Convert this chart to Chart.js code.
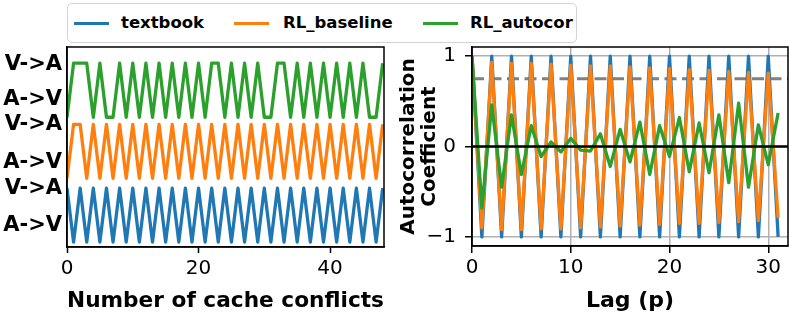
<!DOCTYPE html>
<html><head><meta charset="utf-8">
<script src="https://cdn.jsdelivr.net/npm/chart.js@4/dist/chart.umd.min.js"></script>
<style>
html,body{margin:0;padding:0;background:#fff;}
body{width:789px;height:316px;position:relative;overflow:hidden;font-family:"DejaVu Sans",sans-serif;}
#legend{position:absolute;left:67px;top:3px;width:510px;height:40px;box-sizing:border-box;border:1.5px solid #d3d3d3;border-radius:5px;background:#fff;}
.sw{position:absolute;top:18px;width:35px;height:3px;}
.lb{position:absolute;top:8px;font-weight:bold;font-size:16.5px;line-height:22px;color:#000;white-space:nowrap;}
#c1{position:absolute;left:0;top:0;}
#c2{position:absolute;left:395px;top:0;}
</style></head><body>
<div id="legend"></div>
<canvas id="c1" width="395" height="316"></canvas>
<canvas id="c2" width="394" height="316"></canvas>
<script>
// ---------- data ----------
const seriesNames = ['textbook', 'RL_baseline', 'RL_autocor'];
const seriesColors = ['#1f77b4', '#ff7f0e', '#2ca02c'];

// left panel: sequence of states (1 = V->A, 0 = A->V) per cache conflict
const textbookSeq = [1,0,1,0,1,0,1,0,1,0, 1,0,1,0,1,0,1,0,1,0, 1,0,1,0,1,0,1,0,1,0, 1,0,1,0,1,0,1,0,1,0, 1,0,1,0,1,0,1,0,1];
const baselineSeq = [0,1,1,0,1,0,1,0,1,0, 1,0,1,0,1,0,1,0,1,0, 1,0,1,0,1,0,1,0,1,0, 1,0,1,0,1,0,1,0,1,0, 1,0,1,0,1,0,1,0,1];
const autocorSeq  = [0,1,1,1,0,1,0,0,1,0, 1,0,1,0,1,0,1,0,1,0, 1,0,1,1,0,1,0,1,0,1, 0,0,1,1,0,1,0,1,0,1, 0,1,0,1,0,1,0,0,1];
const stateTickLabels = ['A->V', 'V->A', 'A->V', 'V->A', 'A->V', 'V->A'];
const stateTickValues = [0.31, 1.0, 1.48, 2.17, 2.63, 3.28];
const conflictTicks = [0, 20, 40];

// right panel: autocorrelation coefficient per lag
const lags = [0,1,2,3,4,5,6,7,8,9,10,11,12,13,14,15,16,17,18,19,20,21,22,23,24,25,26,27,28,29,30,31];
const textbookAcf = [1,-1,1,-1,1,-1,1,-1,1,-1,1,-1,1,-1,1,-1,1,-1,1,-1,1,-1,1,-1,1,-1,1,-1,1,-1,1,-1];
const baselineAcf = [1.00,-0.90,0.93,-0.92,0.92,-0.92,0.92,-0.91,0.91,-0.91,0.90,-0.90,0.89,-0.89,0.89,-0.88,0.88,-0.87,0.87,-0.86,0.86,-0.85,0.85,-0.85,0.84,-0.84,0.83,-0.83,0.82,-0.82,0.81,-0.79];
const autocorAcf  = [1.00,-0.68,0.46,-0.45,0.35,-0.31,0.23,-0.11,0.05,-0.06,0.09,-0.04,-0.05,0.14,-0.22,0.19,-0.17,0.27,-0.31,0.23,-0.11,0.32,-0.28,0.26,-0.29,0.35,-0.40,0.48,-0.45,0.24,-0.20,0.37];
const lagTicks = [0, 10, 20, 30];
const acfTickValues = [-1, 0, 1];
const acfTickLabels = ['\u22121', '0', '1'];
const thresholdLevel = 0.75;
const zeroLevel = 0;

// ---------- legend (HTML) ----------
const legendPos = [[6, 53], [166, 215], [355, 402]];
const lg = document.getElementById('legend');
seriesNames.forEach((n, i) => {
  const s = document.createElement('div'); s.className = 'sw';
  s.style.left = legendPos[i][0] + 'px'; s.style.background = seriesColors[i];
  const t = document.createElement('div'); t.className = 'lb';
  t.style.left = legendPos[i][1] + 'px'; t.textContent = n;
  lg.appendChild(s); lg.appendChild(t);
});

Chart.defaults.font.family = '"DejaVu Sans", sans-serif';
Chart.defaults.color = '#000';

const framePlugin = {
  id: 'frame',
  afterDatasetsDraw(chart) {
    const {ctx, chartArea: a} = chart;
    ctx.save();
    ctx.strokeStyle = '#000'; ctx.lineWidth = 1.5;
    ctx.strokeRect(a.left, a.top, a.right - a.left, a.bottom - a.top);
    ctx.restore();
  }
};

const refLinesPlugin = {
  id: 'refLines',
  beforeDatasetsDraw(chart) {
    const {ctx, chartArea: a, scales} = chart;
    const y = scales.y.getPixelForValue(thresholdLevel);
    ctx.save();
    ctx.beginPath(); ctx.rect(a.left, a.top, a.right - a.left, a.bottom - a.top); ctx.clip();
    ctx.strokeStyle = '#808080'; ctx.lineWidth = 3; ctx.setLineDash([12, 5.5]);
    ctx.beginPath(); ctx.moveTo(a.left, y); ctx.lineTo(a.right, y); ctx.stroke();
    ctx.restore();
  },
  afterDatasetsDraw(chart) {
    const {ctx, chartArea: a, scales} = chart;
    const y = scales.y.getPixelForValue(zeroLevel);
    ctx.save();
    ctx.strokeStyle = '#000'; ctx.lineWidth = 2.5;
    ctx.beginPath(); ctx.moveTo(a.left, y); ctx.lineTo(a.right, y); ctx.stroke();
    ctx.restore();
  }
};

const lineDs = (label, pts, color, order) => ({
  label, data: pts, borderColor: color, backgroundColor: color, borderWidth: 3.3,
  pointRadius: 0, tension: 0, fill: false, order,
  borderJoinStyle: 'round', borderCapStyle: 'butt'
});

// ---------- left chart ----------
const stackOffsets = [0, 1.18, 2.31];
const seqs = [textbookSeq, baselineSeq, autocorSeq];
new Chart(document.getElementById('c1'), {
  type: 'line',
  data: {
    datasets: seqs.map((s, k) => lineDs(seriesNames[k], s.map((v, i) => ({x: i, y: v + stackOffsets[k]})), seriesColors[k], 3 - k))
  },
  options: {
    responsive: false, animation: false, events: [],
    layout: {padding: {top: 47, right: 11, left: 0, bottom: 0}},
    plugins: {legend: {display: false}, tooltip: {enabled: false}},
    scales: {
      x: {
        type: 'linear', min: 0, max: 48.2,
        afterBuildTicks: s => { s.ticks = conflictTicks.map(v => ({value: v})); },
        ticks: {font: {size: 20}, color: '#000', padding: 4, maxRotation: 0, autoSkip: false},
        grid: {display: true, drawOnChartArea: false, drawTicks: true, tickLength: 6, tickColor: '#000', tickWidth: 1.5},
        border: {display: true, color: '#000', width: 1.5},
        title: {display: true, text: 'Number of cache conflicts', font: {size: 22, weight: 'bold'}, color: '#000', padding: {top: 0, bottom: 2}},
        afterFit: s => { s.height = 69; }
      },
      y: {
        type: 'linear', min: -0.09, max: 3.61,
        afterBuildTicks: s => { s.ticks = stateTickValues.map(v => ({value: v})); },
        ticks: {callback: (v, i) => stateTickLabels[i], font: {size: 21, weight: 'bold'}, color: '#000', padding: 5, autoSkip: false},
        grid: {display: false, drawTicks: false},
        border: {display: true, color: '#000', width: 1.5},
        afterFit: s => { s.width = 67; }
      }
    }
  },
  plugins: [framePlugin]
});

// ---------- right chart ----------
const acfs = [textbookAcf, baselineAcf, autocorAcf];
new Chart(document.getElementById('c2'), {
  type: 'line',
  data: {
    datasets: acfs.map((s, k) => lineDs(seriesNames[k], s.map((v, i) => ({x: lags[i], y: v})), seriesColors[k], 3 - k))
  },
  options: {
    responsive: false, animation: false, events: [],
    layout: {padding: {top: 47, right: 1, left: 0, bottom: 0}},
    plugins: {legend: {display: false}, tooltip: {enabled: false}},
    scales: {
      x: {
        type: 'linear', min: 0, max: 32,
        afterBuildTicks: s => { s.ticks = lagTicks.map(v => ({value: v})); },
        ticks: {font: {size: 20}, color: '#000', padding: 3, maxRotation: 0, autoSkip: false},
        grid: {color: '#b0b0b0', lineWidth: 1.5, drawTicks: true, tickLength: 7, tickColor: '#000', tickWidth: 1.5},
        border: {display: true, color: '#000', width: 1.5},
        title: {display: true, text: 'Lag (p)', font: {size: 22, weight: 'bold'}, color: '#000', padding: {top: 0, bottom: 2}},
        afterFit: s => { s.height = 70; }
      },
      y: {
        type: 'linear', min: -1.1, max: 1.1,
        afterBuildTicks: s => { s.ticks = acfTickValues.map(v => ({value: v})); },
        ticks: {callback: (v, i) => acfTickLabels[i], font: {size: 20}, color: '#000', padding: 9, autoSkip: false},
        grid: {color: '#b0b0b0', lineWidth: 1.5, drawTicks: true, tickLength: 7, tickColor: '#000', tickWidth: 1.5},
        border: {display: true, color: '#000', width: 1.5},
        title: {display: true, text: ['Autocorrelation', 'Coefficient'], font: {size: 20, weight: 'bold', lineHeight: 1.05}, color: '#000', padding: {top: 3, bottom: 0}},
        afterFit: s => { s.width = 77; }
      }
    }
  },
  plugins: [refLinesPlugin, framePlugin]
});
</script>
</body></html>
